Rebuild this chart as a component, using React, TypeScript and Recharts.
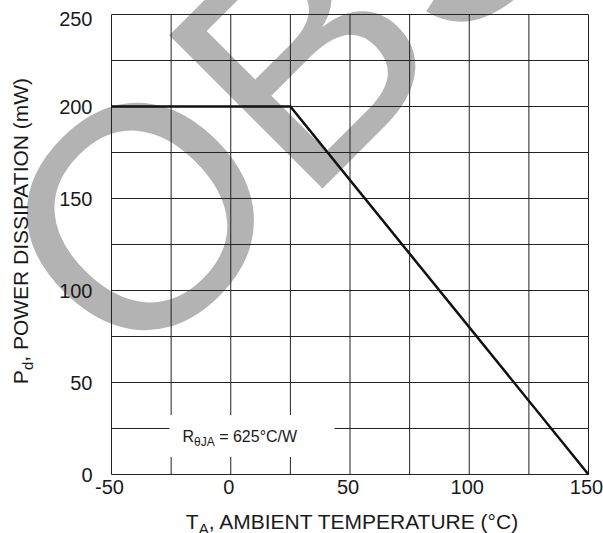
import React from 'react'
import { LineChart, Line, XAxis, YAxis, CartesianGrid, ReferenceArea } from 'recharts'

const tempC = [-50, 25, 150]
const powerMw = [200, 200, 0]
const xTicks = [-50, -25, 0, 25, 50, 75, 100, 125, 150]
const yTicks = [0, 25, 50, 75, 100, 125, 150, 175, 200, 225, 250]
const noteBox = { x1: -25.7, x2: 43.5, y1: 9.5, y2: 32.3 }

const data = tempC.map((t, i) => ({ t, p: powerMw[i] }))

const FONT = '"Liberation Sans", Arial, sans-serif'
const INK = '#1a1a1a'

function YTick(props: any) {
  const { x, y, payload } = props
  if (payload.value % 50 !== 0) return <g />
  const shift = payload.value === 250 ? 4.5 : 0
  return (
    <text x={x} y={y + shift} dy="0.355em" textAnchor="end" fontSize={20} fontFamily={FONT} fill={INK}>
      {payload.value}
    </text>
  )
}

function XTick(props: any) {
  const { x, y, payload } = props
  if (payload.value % 50 !== 0) return <g />
  return (
    <text x={x - 2} y={y} dy="0.71em" textAnchor="middle" fontSize={20} fontFamily={FONT} fill={INK}>
      {payload.value}
    </text>
  )
}

function XLabel(props: any) {
  const vb = props.viewBox
  const cx = vb.x + vb.width / 2 + 2
  return (
    <text x={cx} y={529} textAnchor="middle" fontSize={21} fontFamily={FONT} fill={INK}>
      T<tspan fontSize={15} dy={5}>A</tspan>
      <tspan dy={-5}>, AMBIENT TEMPERATURE (°C)</tspan>
    </text>
  )
}

function YLabel() {
  return (
    <text x={28} y={231} transform="rotate(-90, 28, 231)" textAnchor="middle" fontSize={21} fontFamily={FONT} fill={INK}>
      P<tspan fontSize={15} dy={5}>d</tspan>
      <tspan dy={-5}>, POWER DISSIPATION (mW)</tspan>
    </text>
  )
}

function NoteLabel(props: any) {
  const vb = props.viewBox
  return (
    <text x={vb.x + 13} y={vb.y + vb.height / 2 + 6} fontSize={16} fontFamily={FONT} fill={INK}>
      R<tspan fontSize={12} dy={4}>θJA</tspan>
      <tspan dy={-4}> = 625°C/W</tspan>
    </text>
  )
}

export default function App() {
  return (
    <div style={{ position: 'absolute', left: 0, top: 0, width: 603, height: 533, background: '#fff' }}>
      <svg width={603} height={533} style={{ position: 'absolute', left: 0, top: 0 }}>
        <text
          x={131}
          y={380}
          transform="rotate(-45, 131, 380)"
          fontSize={315}
          fontFamily={FONT}
          fill="#b3b3b3"
        >
          OBSOLETE
        </text>
      </svg>
      <div style={{ position: 'absolute', left: 0, top: 0 }}>
        <LineChart width={603} height={533} data={data} margin={{ top: 14.5, right: 14.5, left: 0.5, bottom: 0 }}>
          <CartesianGrid stroke="#222" strokeWidth={1} />
          <XAxis
            dataKey="t"
            type="number"
            domain={[-50, 150]}
            ticks={xTicks}
            axisLine={false}
            tickLine={false}
            tickSize={0}
            tickMargin={5}
            height={58.5}
            tick={<XTick />}
            label={<XLabel />}
          />
          <YAxis
            type="number"
            domain={[0, 250]}
            ticks={yTicks}
            axisLine={false}
            tickLine={false}
            tickSize={0}
            tickMargin={19}
            width={111}
            tick={<YTick />}
            label={<YLabel />}
          />
          <ReferenceArea
            x1={noteBox.x1}
            x2={noteBox.x2}
            y1={noteBox.y1}
            y2={noteBox.y2}
            fill="#fff"
            fillOpacity={1}
            stroke="none"
            label={<NoteLabel />}
          />
          <Line
            dataKey="p"
            type="linear"
            stroke="#111"
            strokeWidth={2.5}
            dot={false}
            isAnimationActive={false}
          />
        </LineChart>
      </div>
    </div>
  )
}
